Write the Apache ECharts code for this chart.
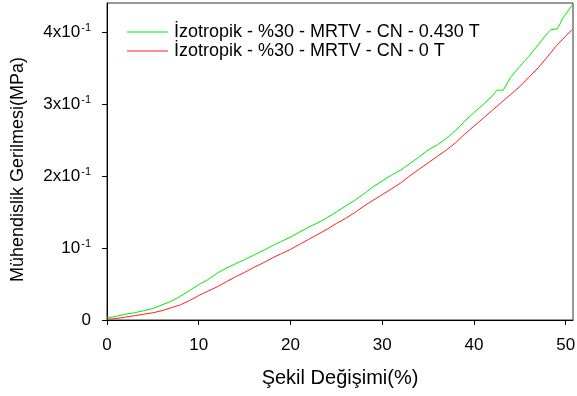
<!DOCTYPE html>
<html><head><meta charset="utf-8">
<script src="https://cdn.jsdelivr.net/npm/echarts@6/dist/echarts.min.js"></script>
<style>html,body{margin:0;padding:0;background:#fff}#c{width:577px;height:396px}</style>
</head><body><div id="c"></div>
<script>
const seriesNames = ['İzotropik - %30 - MRTV - CN - 0.430 T', 'İzotropik - %30 - MRTV - CN - 0 T'];
const greenX = [0,1,2,3,4,5,6,7,8,9,10,11,12,13,14,15,16,17,18,19,20,21,22,23,24,25,26,27,28,29,30,31,32,33,34,35,36,37,38,39,40,41,42,42.5,43.2,44,45,46,47,48,48.4,49.1,49.7,50.7];
const greenY = [0.003,0.005,0.008,0.010,0.013,0.016,0.021,0.026,0.033,0.041,0.049,0.056,0.065,0.072,0.078,0.084,0.090,0.096,0.103,0.109,0.115,0.122,0.129,0.135,0.142,0.150,0.158,0.166,0.175,0.185,0.193,0.201,0.208,0.217,0.226,0.236,0.243,0.252,0.263,0.276,0.288,0.299,0.311,0.319,0.319,0.337,0.352,0.366,0.382,0.398,0.403,0.404,0.419,0.437];
const redX = [0,1,2,3,4,5,6,7,8,9,10,11,12,13,14,15,16,17,18,19,20,21,22,23,24,25,26,27,28,29,30,31,32,33,34,35,36,37,38,39,40,41,42,43,44,45,46,47,48,49,50,50.7];
const redY = [0.001,0.002,0.004,0.006,0.008,0.010,0.013,0.017,0.021,0.027,0.034,0.040,0.046,0.053,0.060,0.066,0.073,0.079,0.086,0.092,0.098,0.105,0.112,0.119,0.126,0.134,0.141,0.149,0.158,0.166,0.174,0.182,0.190,0.200,0.209,0.218,0.227,0.236,0.246,0.258,0.269,0.280,0.291,0.302,0.313,0.324,0.337,0.350,0.365,0.381,0.394,0.403];
const yTickLabels = {0:'0', 1:'{b|10}{s|-1}', 2:'{b|2x10}{s|-1}', 3:'{b|3x10}{s|-1}', 4:'{b|4x10}{s|-1}'};
const xTitle = 'Şekil Değişimi(%)';
const yTitle = 'Mühendislik Gerilmesi(MPa)';

const F = 'Liberation Sans, Arial, sans-serif';
const chart = echarts.init(document.getElementById('c'), null, {renderer:'canvas'});
chart.setOption({
  animation:false,
  backgroundColor:'#fff',
  grid:{left:107, right:4, top:3, bottom:76, show:true, borderColor:'#333', borderWidth:1, containLabel:false, outerBoundsMode:'none'},
  legend:{
    left:122, top:18, orient:'vertical', icon:'rect', itemWidth:41, itemHeight:1, itemGap:1,
    textStyle:{fontFamily:F, fontSize:18, color:'#000', padding:[0,0,0,1]},
    data:seriesNames
  },
  xAxis:{
    type:'value', min:0, max:50.8, interval:10,
    name:xTitle, nameLocation:'middle', nameGap:48,
    nameTextStyle:{fontFamily:F, fontSize:20, color:'#000'},
    axisLine:{show:true, lineStyle:{color:'#000', width:1}},
    axisTick:{show:true, length:5, lineStyle:{color:'#000'}},
    axisLabel:{fontFamily:F, fontSize:17, color:'#000', margin:17, showMaxLabel:false},
    splitLine:{show:false}
  },
  yAxis:{
    type:'value', min:0, max:0.44, interval:0.1,
    name:yTitle, nameLocation:'middle', nameGap:80,
    nameTextStyle:{fontFamily:F, fontSize:18, color:'#000', padding:[0,16,0,0]},
    axisLine:{show:true, lineStyle:{color:'#000', width:1}},
    axisTick:{show:true, length:5, lineStyle:{color:'#000'}},
    axisLabel:{
      fontFamily:F, fontSize:17, color:'#000', margin:16, showMaxLabel:false,
      formatter:function(v){ return yTickLabels[Math.round(v*10)] || ''; },
      rich:{
        b:{fontFamily:F, fontSize:17, color:'#000'},
        s:{fontFamily:F, fontSize:11, color:'#000', verticalAlign:'top', padding:[0,0,8,1]}
      }
    },
    splitLine:{show:false}
  },
  series:[
    {name:seriesNames[0], type:'line', symbol:'none', data:greenX.map((x,i)=>[x,greenY[i]]), lineStyle:{color:'#00ee00', width:1}, itemStyle:{color:'#00ee00'}},
    {name:seriesNames[1], type:'line', symbol:'none', data:redX.map((x,i)=>[x,redY[i]]), lineStyle:{color:'#ff2020', width:1}, itemStyle:{color:'#ff2020'}}
  ]
});
</script></body></html>
